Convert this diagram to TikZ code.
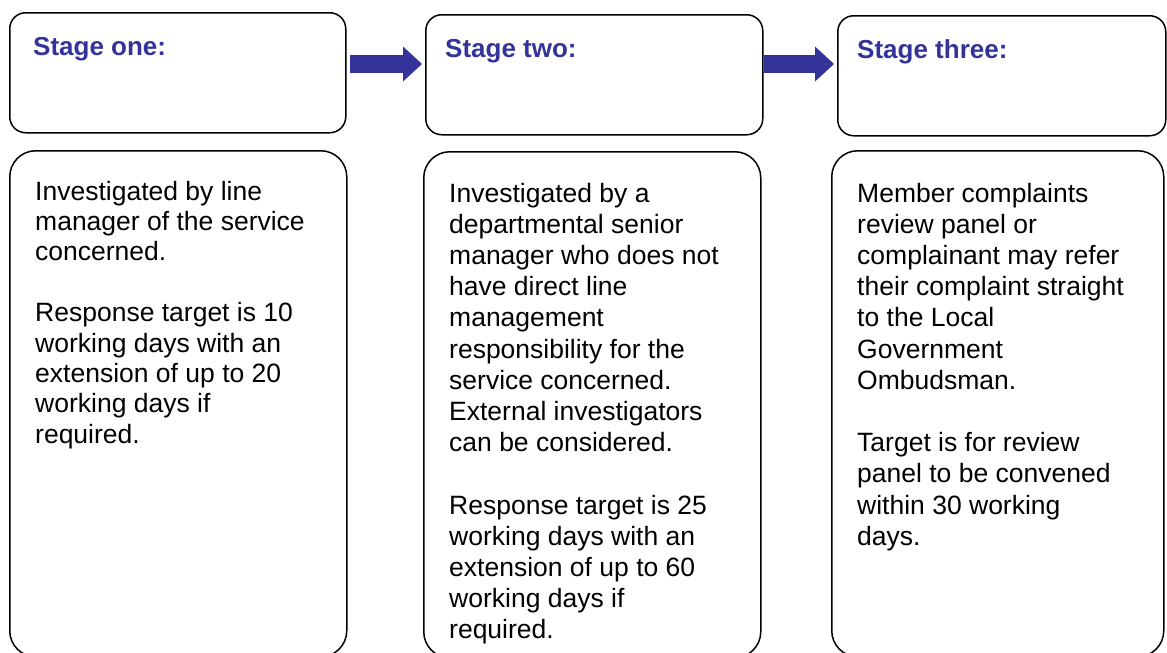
\documentclass[tikz,border=0pt]{standalone}
\usepackage{fontspec}
\setmainfont{Liberation Sans}
\usetikzlibrary{arrows.meta}
\definecolor{stageblue}{HTML}{333399}
\begin{document}
\begin{tikzpicture}[x=1pt,y=-1pt,
  topbox/.style={draw, line width=1.5pt, rounded corners=16pt, anchor=north west, inner sep=0pt, minimum height=120pt},
  bodybox/.style={draw, line width=1.5pt, rounded corners=26pt, anchor=north west, inner sep=0pt, minimum height=506pt},
  heading/.style={anchor=base west, inner sep=0pt, text=stageblue, font=\fontsize{26}{30}\selectfont\bfseries},
  bodytext/.style={anchor=base west, inner sep=0pt, font=\fontsize{26.5}{#1}\selectfont},
  bodytext/.default={31.2pt},
  flow/.style={draw=stageblue, line width=18pt, -{Triangle[length=19pt,width=35pt,line width=0pt]}}
]
\useasboundingbox (0,0) rectangle (1167,653);
\fill[white] (0,0) rectangle (1167,653);

% top boxes
\node[topbox, minimum width=336pt] (t1) at (9,12) {};
\node[topbox, minimum width=337pt] (t2) at (425,14) {};
\node[topbox, minimum width=328pt] (t3) at (837,15) {};

% body boxes
\node[bodybox, minimum width=337pt] (b1) at (9,150) {};
\node[bodybox, minimum width=337pt] (b2) at (423,151) {};
\node[bodybox, minimum width=332pt] (b3) at (831,150) {};

% headings
\node[heading] (h1) at (33,55) {Stage one:};
\node[heading] (h2) at (445,57) {Stage two:};
\node[heading] (h3) at (857,58) {Stage three:};

% body texts
\node[bodytext=30.4pt] (x1) at (35,200) {\parbox[t]{305pt}{\raggedright
Investigated by line\\ manager of the service\\ concerned.\\[30.4pt]
Response target is 10\\ working days with an\\ extension of up to 20\\ working days if\\ required.}};
\node[bodytext] (x2) at (449,202) {\parbox[t]{305pt}{\raggedright
Investigated by a\\ departmental senior\\ manager who does not\\ have direct line\\ management\\ responsibility for the\\ service concerned.\\ External investigators\\ can be considered.\\[31.2pt]
Response target is 25\\ working days with an\\ extension of up to 60\\ working days if\\ required.}};
\node[bodytext] (x3) at (857,202) {\parbox[t]{305pt}{\raggedright
Member complaints\\ review panel or\\ complainant may refer\\ their complaint straight\\ to the Local\\ Government\\ Ombudsman.\\[31.2pt]
Target is for review\\ panel to be convened\\ within 30 working\\ days.}};

% arrows
\draw[flow, shorten <=3pt, shorten >=3pt] ([yshift=-52pt]t1.north east) -- ([yshift=-52pt]t1.north east -| t2.west);
\draw[flow, shorten >=3pt] ([yshift=-50pt]t2.north east) -- ([yshift=-50pt]t2.north east -| t3.west);
\end{tikzpicture}
\end{document}
